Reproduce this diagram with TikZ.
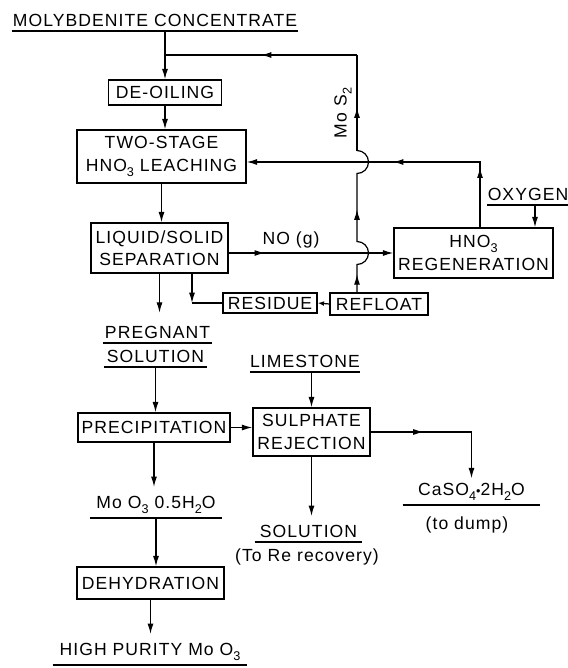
\documentclass[tikz,border=0pt]{standalone}
\usepackage{fontspec}
\setmainfont{Liberation Sans}[LetterSpace=6]
\usetikzlibrary{arrows.meta,decorations.markings,calc}
\newcommand\chsub[1]{\raisebox{-0.55ex}{\small #1}}
\tikzset{
  font=\fontsize{12.5}{16}\selectfont,
  box/.style   ={draw, line width=0.35mm, align=center, inner sep=2pt},
  stream/.style={align=center, inner xsep=0pt, inner ysep=1.1mm, anchor=south, minimum width=#1,
                 append after command={(\tikzlastnode.south west) edge[line width=0.3mm] (\tikzlastnode.south east)}},
  flow/.style  ={line width=0.3mm},
  arr/.style   ={flow, -{Latex[length=2.6mm,width=1.5mm]}},
  midarr/.style={postaction={decorate, decoration={markings,
                 mark=at position #1 with {\arrow{Latex[length=2.6mm,width=1.5mm]}}}}},
  note/.style  ={align=center},
}
\begin{document}
\begin{tikzpicture}[x=0.25mm, y=-0.25mm]
  \useasboundingbox (0,0) rectangle (568,668);

  % main line: concentrate -> leaching -> separation
  \node[stream=71.5mm] (conc) at (155,31) {MOLYBDENITE CONCENTRATE};
  \node[box, minimum width=28.25mm, minimum height=6.25mm] (deoil) at (165,92.5) {DE-OILING};
  \node[box, minimum width=42.25mm, minimum height=13.25mm] (leach) at (161.5,156.5) {TWO-STAGE\\HNO\chsub{3} LEACHING};
  \node[box, minimum width=34.25mm, minimum height=12.5mm] (sep) at (159.5,248) {LIQUID/SOLID\\SEPARATION};

  % nitric acid loop
  \node[box, minimum width=39.75mm, minimum height=12.5mm] (regen) at (473.5,253) {HNO\chsub{3}\\REGENERATION};
  \node[stream=20mm] (oxy) at (528,205) {OXYGEN};
  \node[box, minimum width=23.5mm, minimum height=5mm] (residue) at (270,303) {RESIDUE};
  \node[box, minimum width=24.5mm, minimum height=5.5mm] (refloat) at (379,304) {REFLOAT};
  \coordinate (top) at (357,55);
  \coordinate (ret) at (480,162);
  \coordinate (ox)  at (535,205);
  \coordinate (rc)  at (192,303);
  \node[note, rotate=90] (mos) at (343,113) {Mo S\chsub{2}};
  \node[note] (nog) at (291,240) {NO (g)};

  % pregnant solution -> product
  \node[stream=27.25mm] (preg1) at (157.5,343) {PREGNANT};
  \node[stream=25.75mm] (preg2) at (155.5,367) {SOLUTION};
  \node[box, minimum width=38mm, minimum height=7.25mm] (precip) at (154,427.5) {PRECIPITATION};
  \node[stream=25mm] (lime) at (305,372) {LIMESTONE};
  \node[box, minimum width=29.25mm, minimum height=12mm] (sulph) at (311.5,432) {SULPHATE\\REJECTION};
  \node[stream=34.25mm] (caso) at (471.5,505) {CaSO\chsub{4}{\small\textbullet}2H\chsub{2}O};
  \node[note] (dump) at (467,525) {(to dump)};
  \node[stream=26.75mm] (soln) at (308.5,542) {SOLUTION};
  \node[note] (rere) at (307,557) {(To Re recovery)};
  \node[stream=33mm] (moo) at (156,518) {Mo O\chsub{3} 0.5H\chsub{2}O};
  \node[box, minimum width=36.75mm, minimum height=8mm] (dehyd) at (150.5,583) {DEHYDRATION};
  \node[stream=48.5mm] (hp) at (150,665) {HIGH PURITY Mo O\chsub{3}};

  \draw[arr] (deoil.north |- conc.south) -- (deoil.north);
  \draw[arr] (deoil.south) -- (deoil.south |- leach.north);
  \draw[arr] (leach.south) -- (leach.south |- sep.north);
  \draw[arr, shorten >=6pt] (sep.south) -- (sep.south |- preg1.north);
  \draw[arr] (preg2.south) -- (preg2.south |- precip.north);
  \draw[arr] (precip.east) -- (precip.east -| sulph.west);
  \draw[arr] (sulph.north |- lime.south) -- (sulph.north);
  \draw[arr, midarr=0.36] (sulph.east) -| (caso.north);
  \draw[arr, shorten >=3pt] (sulph.south) -- (sulph.south |- soln.north);
  \draw[arr, shorten >=3pt] (precip.south) -- (precip.south |- moo.north);
  \draw[arr] (moo.south) -- (moo.south |- dehyd.north);
  \draw[arr, shorten >=3pt] (dehyd.south) -- (dehyd.south |- hp.north);

  % gas to regeneration and acid back to leaching
  \draw[arr, midarr=0.22] (sep.east |- regen.west) -- (regen.west);
  \draw[arr] (ox) -- (ox |- regen.north);
  \draw[arr, midarr=0.2, midarr=0.51] (regen.north -| ret) -- (ret) -- (leach.east |- ret);

  % residue, refloat and MoS2 recycle (hops over the crossings)
  \draw[arr] (sep.south -| rc) -- (rc);
  \draw[flow] (rc) -- (residue.west);
  \draw[arr, -{Latex[length=1.6mm,width=1.2mm]}] (refloat.west) -- (residue.east);
  \draw[flow, midarr=4.5mm, midarr=24mm]
    (refloat.north -| top) -- ($(top |- regen.west)+(0,11.5)$) arc[start angle=90, end angle=-90, radius=11.5]
    -- ($(top |- ret)+(0,11.5)$) arc[start angle=90, end angle=-90, radius=11.5];
  \draw[flow, midarr=0.45] ($(top |- ret)-(0,11.5)$) -- (top);
  \draw[flow] (top) -- (deoil.north |- top);
  \draw[arr] (top) -- ($(top)!0.5!(deoil.north |- top)$);
\end{tikzpicture}
\end{document}
